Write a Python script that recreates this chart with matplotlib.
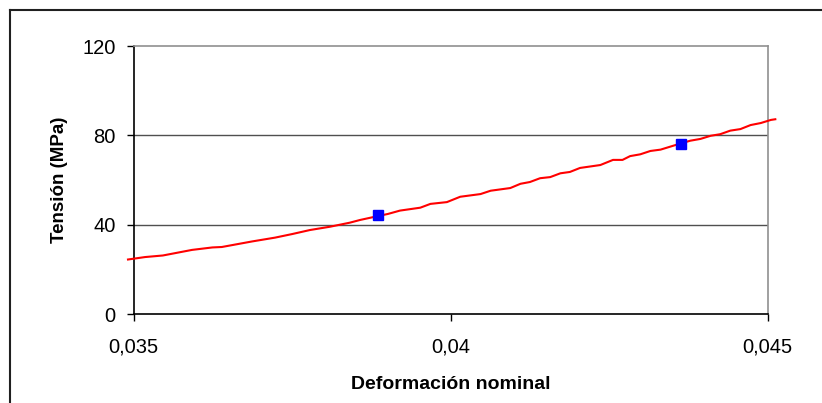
import matplotlib
matplotlib.use("Agg")
import matplotlib.pyplot as plt
from matplotlib.lines import Line2D

# Data
strain = [0.03491, 0.03518, 0.03546, 0.03592, 0.03624, 0.03639, 0.03687, 0.03723,
          0.03750, 0.03778, 0.03810, 0.03841, 0.03857, 0.03878, 0.03901, 0.03920,
          0.03952, 0.03968, 0.03994, 0.04015, 0.04047, 0.04063, 0.04094, 0.04110,
          0.04125, 0.04141, 0.04157, 0.04173, 0.04188, 0.04204, 0.04236, 0.04256,
          0.04271, 0.04283, 0.04299, 0.04315, 0.04331, 0.04362, 0.04378, 0.04394,
          0.04410, 0.04425, 0.04441, 0.04457, 0.04473, 0.04489, 0.04505, 0.04512]
stress = [24.4, 25.5, 26.2, 28.7, 29.8, 30.0, 32.5, 34.2,
          35.8, 37.6, 39.1, 40.9, 42.1, 43.4, 44.8, 46.3,
          47.6, 49.3, 50.1, 52.5, 53.7, 55.2, 56.4, 58.3,
          59.1, 60.8, 61.3, 63.0, 63.6, 65.4, 66.7, 69.0,
          69.0, 70.7, 71.5, 73.0, 73.6, 76.3, 77.6, 78.4,
          79.8, 80.5, 82.1, 82.8, 84.6, 85.5, 86.9, 87.2]
mark_x = [0.03886, 0.04364]
mark_y = [44.3, 76.1]

x_ticks = [0.035, 0.04, 0.045]
x_ticklabels = ["0,035", "0,04", "0,045"]
y_ticks = [0, 40, 80, 120]
y_ticklabels = ["0", "40", "80", "120"]

plt.rcParams['font.family'] = ['Liberation Sans', 'DejaVu Sans']

W, H = 822, 403
fig = plt.figure(figsize=(W / 100, H / 100), dpi=100)
ax = fig.add_axes([133.7 / W, 1 - 314 / H, (767.7 - 133.7) / W, (314 - 46) / H])

ax.set_xlim(0.035, 0.045)
ax.set_ylim(0, 120)

for yv in [40, 80]:
    ax.axhline(yv, color='#505050', lw=1.0, zorder=1)

ax.plot(strain, stress, color='#ff0000', lw=1.5, zorder=3, clip_on=False)
ax.plot(mark_x, mark_y, linestyle='none', marker='s', markersize=7.5,
        color='#0000ff', markeredgecolor='#0000ff', zorder=4)

ax.set_xticks(x_ticks)
ax.set_xticklabels(x_ticklabels)
ax.set_yticks(y_ticks)
ax.set_yticklabels(y_ticklabels)
ax.tick_params(axis='both', direction='out', length=5, width=1.0, colors='black',
               labelsize=14.5)
ax.tick_params(axis='y', pad=8)
ax.tick_params(axis='x', pad=12)

ax.spines['left'].set_color('black')
ax.spines['bottom'].set_color('black')
ax.spines['top'].set_color('#909090')
ax.spines['right'].set_color('#909090')
for s in ax.spines.values():
    s.set_linewidth(1.2)

ax.set_xlabel('Deformación nominal', fontsize=14, fontweight='bold', labelpad=14)
ax.set_ylabel('Tensión (MPa)', fontsize=13.5, fontweight='bold', labelpad=10)

# outer chart frame (clipped at right and bottom in the reference)
fig.add_artist(Line2D([10 / W, 1.0], [1 - 10 / H, 1 - 10 / H], color='#202020', lw=1.5))
fig.add_artist(Line2D([10 / W, 10 / W], [1 - 10 / H, 0.0], color='#202020', lw=1.5))

fig.savefig('out.png', dpi=100, facecolor='white')
